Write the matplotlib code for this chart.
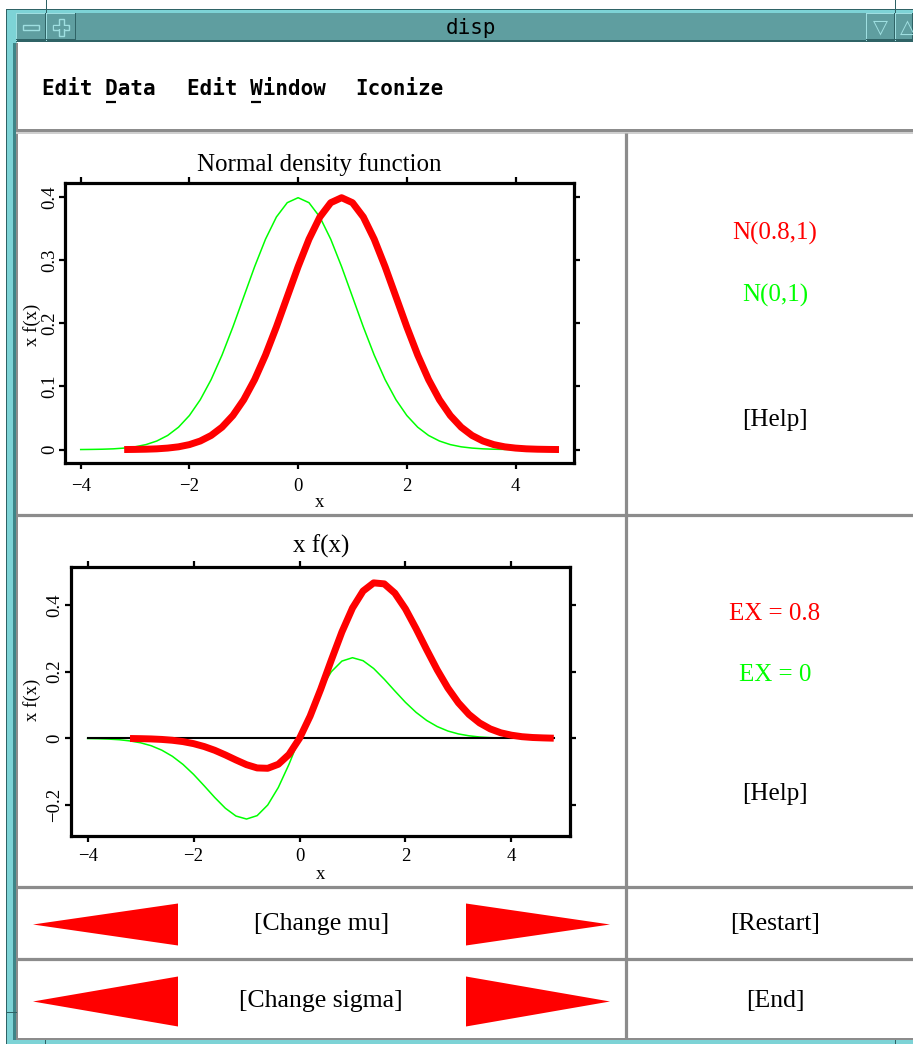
import matplotlib
matplotlib.use("Agg")
import matplotlib.pyplot as plt
from matplotlib.patches import Rectangle, Polygon

# ---------------- data ----------------
x_n01 = [-4.0, -3.8, -3.6, -3.4, -3.2, -3.0, -2.8, -2.6, -2.4, -2.2, -2.0,
         -1.8, -1.6, -1.4, -1.2, -1.0, -0.8, -0.6, -0.4, -0.2, 0.0,
         0.2, 0.4, 0.6, 0.8, 1.0, 1.2, 1.4, 1.6, 1.8, 2.0,
         2.2, 2.4, 2.6, 2.8, 3.0, 3.2, 3.4, 3.6, 3.8, 4.0]
f_n01 = [0.0001, 0.0003, 0.0006, 0.0012, 0.0024, 0.0044, 0.0079, 0.0136, 0.0224, 0.0355, 0.0540,
         0.0790, 0.1109, 0.1497, 0.1942, 0.2420, 0.2897, 0.3332, 0.3683, 0.3910, 0.3989,
         0.3910, 0.3683, 0.3332, 0.2897, 0.2420, 0.1942, 0.1497, 0.1109, 0.0790, 0.0540,
         0.0355, 0.0224, 0.0136, 0.0079, 0.0044, 0.0024, 0.0012, 0.0006, 0.0003, 0.0001]
x_n81 = [-3.2, -3.0, -2.8, -2.6, -2.4, -2.2, -2.0, -1.8, -1.6, -1.4, -1.2,
         -1.0, -0.8, -0.6, -0.4, -0.2, 0.0, 0.2, 0.4, 0.6, 0.8,
         1.0, 1.2, 1.4, 1.6, 1.8, 2.0, 2.2, 2.4, 2.6, 2.8,
         3.0, 3.2, 3.4, 3.6, 3.8, 4.0, 4.2, 4.4, 4.6, 4.8]
f_n81 = [0.0001, 0.0003, 0.0006, 0.0012, 0.0024, 0.0044, 0.0079, 0.0136, 0.0224, 0.0355, 0.0540,
         0.0790, 0.1109, 0.1497, 0.1942, 0.2420, 0.2897, 0.3332, 0.3683, 0.3910, 0.3989,
         0.3910, 0.3683, 0.3332, 0.2897, 0.2420, 0.1942, 0.1497, 0.1109, 0.0790, 0.0540,
         0.0355, 0.0224, 0.0136, 0.0079, 0.0044, 0.0024, 0.0012, 0.0006, 0.0003, 0.0001]
xf_n01 = [-0.0005, -0.0011, -0.0022, -0.0041, -0.0077, -0.0133, -0.0221, -0.0354, -0.0538, -0.0781, -0.1080,
          -0.1422, -0.1774, -0.2096, -0.2330, -0.2420, -0.2318, -0.1999, -0.1473, -0.0782, 0.0,
          0.0782, 0.1473, 0.1999, 0.2318, 0.2420, 0.2330, 0.2096, 0.1774, 0.1422, 0.1080,
          0.0781, 0.0538, 0.0354, 0.0221, 0.0133, 0.0077, 0.0041, 0.0022, 0.0011, 0.0005]
xf_n81 = [-0.0004, -0.0009, -0.0017, -0.0032, -0.0057, -0.0097, -0.0158, -0.0245, -0.0358, -0.0497, -0.0648,
          -0.0790, -0.0887, -0.0898, -0.0777, -0.0484, 0.0, 0.0666, 0.1473, 0.2346, 0.3191,
          0.3910, 0.4420, 0.4665, 0.4635, 0.4356, 0.3884, 0.3293, 0.2662, 0.2054, 0.1512,
          0.1065, 0.0717, 0.0462, 0.0284, 0.0167, 0.0096, 0.0050, 0.0026, 0.0014, 0.0005]
zero_x = [-4.0, 4.8]
zero_y = [0.0, 0.0]

x_ticks = [-4, -2, 0, 2, 4]
x_ticklabels = ["\u22124", "\u22122", "0", "2", "4"]
y1_ticks = [0.0, 0.1, 0.2, 0.3, 0.4]
y1_ticklabels = ["0", "0.1", "0.2", "0.3", "0.4"]
y2_ticks = [-0.2, 0.0, 0.2, 0.4]
y2_ticklabels = ["\u22120.2", "0", "0.2", "0.4"]

title1 = "Normal density function"
title2 = "x f(x)"
xlab = "x"
ylab = "x f(x)"
legend1 = [("N(0.8,1)", "#ff0000"), ("N(0,1)", "#00ff00")]
legend2 = [("EX = 0.8", "#ff0000"), ("EX = 0", "#00ff00")]
menu_items = ["Edit Data", "Edit Window", "Iconize"]

RED = "#ff0000"
GREEN = "#00ff00"
SERIF = "Liberation Serif"

W, H = 913, 1044
fig = plt.figure(figsize=(W / 100, H / 100), dpi=100)
fig.patch.set_facecolor("white")


def fr(x0, y0, x1, y1):
    return [x0 / W, 1 - y1 / H, (x1 - x0) / W, (y1 - y0) / H]


# ---------------- window chrome ----------------
bg = fig.add_axes([0, 0, 1, 1])
bg.set_xlim(0, W)
bg.set_ylim(H, 0)
bg.axis("off")

CYAN = "#7dd3d6"
TEAL = "#5f9ea0"
DARK = "#2f6366"
LIGHT = "#9fdfe1"
GRAY = "#8c8c8c"


def rect(x, y, w, h, c, z=1):
    bg.add_patch(Rectangle((x, y), w, h, facecolor=c, edgecolor="none", zorder=z))


# outer frame
rect(6, 9, 907, 5, CYAN)
rect(6, 9, 11, 1035, CYAN)
rect(6, 1040, 907, 4, CYAN)
rect(6, 9, 1, 1035, DARK, 2)
rect(6, 9, 907, 1, DARK, 2)
rect(13, 43, 3, 997, "#3e8588", 2)
rect(16, 43, 2, 997, GRAY, 2)
rect(6, 1012, 11, 1, DARK, 2)
rect(46, 0, 1, 13, DARK, 2)
rect(895, 0, 1, 13, DARK, 2)
rect(45, 1040, 1, 4, DARK, 2)
rect(895, 1040, 1, 4, DARK, 2)
rect(16, 1038, 897, 2, GRAY, 2)

# title bar
rect(16, 13, 897, 29, TEAL)
rect(16, 40, 897, 2, DARK, 2)
for bx0, bx1 in [(16, 46), (46, 76), (866, 895), (895, 913)]:
    rect(bx0, 13, 1, 28, LIGHT, 3)
    rect(bx0, 13, bx1 - bx0, 1, LIGHT, 3)
    rect(bx1 - 1, 13, 1, 28, DARK, 3)
    rect(bx0, 39, bx1 - bx0, 1, DARK, 3)
# minus / plus glyphs
bg.add_patch(Rectangle((23, 25), 16, 5, facecolor=TEAL, edgecolor=LIGHT, lw=1, zorder=4))
bg.add_patch(Rectangle((53, 25), 16, 5, facecolor=TEAL, edgecolor=LIGHT, lw=1, zorder=4))
bg.add_patch(Rectangle((58.5, 19), 5, 17, facecolor=TEAL, edgecolor=LIGHT, lw=1, zorder=4))
bg.add_patch(Rectangle((53.6, 25.6), 14.8, 3.8, facecolor=TEAL, edgecolor="none", zorder=5))
bg.text(880, 27, "\u25bd", ha="center", va="center", fontsize=14, color=LIGHT,
        family="DejaVu Sans", zorder=5)
bg.text(907, 27, "\u25b3", ha="center", va="center", fontsize=14, color=LIGHT,
        family="DejaVu Sans", zorder=5)
bg.text(471, 28, "disp", ha="center", va="center", fontsize=15,
        family="DejaVu Sans Mono", color="black", zorder=5)

# menu bar
rect(16, 129, 897, 3, GRAY, 2)
rect(16, 132, 897, 2, "#cfcfcf", 2)
menu_x = [42, 187, 355]
for label, mx in zip(menu_items, menu_x):
    bg.text(mx, 95, label, ha="left", va="baseline", fontsize=15, weight="bold",
            family="DejaVu Sans Mono", color="black", zorder=5)
adv = 12.54
for mx in [menu_x[0], menu_x[1]]:
    bg.plot([mx + 5 * adv + 1, mx + 6 * adv - 1], [101.5, 101.5], color="black", lw=1.6,
            solid_capstyle="butt", zorder=5)

# panel grid lines
LW = 2.3
bg.plot([625.5, 625.5], [133, 1039], color=GRAY, lw=LW, solid_capstyle="butt", zorder=3)
for yy in [515, 886.5, 958.5]:
    bg.plot([17, 913], [yy, yy], color=GRAY, lw=LW, solid_capstyle="butt", zorder=3)

# arrow buttons
for yc, hh in [(924.5, 21), (1001.5, 25)]:
    bg.add_patch(Polygon([(33, yc), (178, yc - hh), (178, yc + hh)], closed=True,
                         facecolor=RED, edgecolor="none", zorder=4))
    bg.add_patch(Polygon([(466, yc - hh), (466, yc + hh), (610, yc)], closed=True,
                         facecolor=RED, edgecolor="none", zorder=4))

# button texts
bg.text(322, 924, "[Change mu]", ha="center", va="center", fontsize=18.5, family=SERIF)
bg.text(321, 1001, "[Change sigma]", ha="center", va="center", fontsize=18.5, family=SERIF)
bg.text(775, 924, "[Restart]", ha="center", va="center", fontsize=18.5, family=SERIF)
bg.text(775, 1001, "[End]", ha="center", va="center", fontsize=18.5, family=SERIF)

# right panel labels
for (txt, col), yy in zip(legend1, [233, 295]):
    bg.text(775, yy, txt, ha="center", va="center", fontsize=18, family=SERIF, color=col)
bg.text(775, 420, "[Help]", ha="center", va="center", fontsize=18, family=SERIF)
for (txt, col), yy in zip(legend2, [614, 675]):
    bg.text(775, yy, txt, ha="center", va="center", fontsize=18, family=SERIF, color=col)
bg.text(775, 794, "[Help]", ha="center", va="center", fontsize=18, family=SERIF)


# ---------------- plots ----------------
def style_axes(ax, yticks, yticklabels, xpad, ypad):
    for s in ax.spines.values():
        s.set_linewidth(2.3)
        s.set_color("black")
    ax.set_xticks(x_ticks)
    ax.set_xticklabels(x_ticklabels, family=SERIF, fontsize=13.5)
    ax.set_yticks(yticks)
    ax.set_yticklabels(yticklabels, family=SERIF, fontsize=13.5, rotation=90, va="center")
    ax.tick_params(axis="both", direction="out", length=4, width=1.6,
                   top=True, right=True, bottom=True, left=True,
                   labelbottom=True, labelleft=True, labeltop=False, labelright=False)
    ax.tick_params(axis="x", pad=xpad)
    ax.tick_params(axis="y", pad=ypad)
    ax.set_facecolor("white")


ax1 = fig.add_axes(fr(65, 183.3, 574, 463.3))
ax1.plot(x_n01, f_n01, color=GREEN, lw=1.1, zorder=2)
ax1.plot(x_n81, f_n81, color=RED, lw=5.0, solid_capstyle="butt", solid_joinstyle="round", zorder=3)
ax1.set_xlim(-4.289, 5.076)
ax1.set_ylim(-0.0217, 0.4217)
style_axes(ax1, y1_ticks, y1_ticklabels, xpad=6.5, ypad=1.0)
ax1.set_title(title1, family=SERIF, fontsize=18, y=1.0457, pad=0)
ax1.set_xlabel(xlab, family=SERIF, fontsize=13.5)
ax1.xaxis.set_label_coords(0.501, -0.139)
ax1.xaxis.label.set_va("center")
ax1.set_ylabel(ylab, family=SERIF, fontsize=13.5)
ax1.yaxis.set_label_coords(-0.0656, 0.493)
ax1.yaxis.label.set_va("center")

ax2 = fig.add_axes(fr(71.2, 566.7, 570.2, 835.7))
ax2.plot(x_n01, xf_n01, color=GREEN, lw=1.1, zorder=2)
ax2.plot(zero_x, zero_y, color="black", lw=1.5, zorder=2.5)
ax2.plot(x_n81, xf_n81, color=RED, lw=5.0, solid_capstyle="butt", solid_joinstyle="round", zorder=3)
ax2.set_xlim(-4.31, 5.11)
ax2.set_ylim(-0.292, 0.515)
style_axes(ax2, y2_ticks, y2_ticklabels, xpad=5.0, ypad=1.5)
ax2.set_title(title2, family=SERIF, fontsize=18, y=1.0535, pad=0)
ax2.set_xlabel(xlab, family=SERIF, fontsize=13.5)
ax2.xaxis.set_label_coords(0.5006, -0.146)
ax2.xaxis.label.set_va("center")
ax2.set_ylabel(ylab, family=SERIF, fontsize=13.5)
ax2.yaxis.set_label_coords(-0.079, 0.504)
ax2.yaxis.label.set_va("center")

fig.savefig("out.png", dpi=100, facecolor="white")
